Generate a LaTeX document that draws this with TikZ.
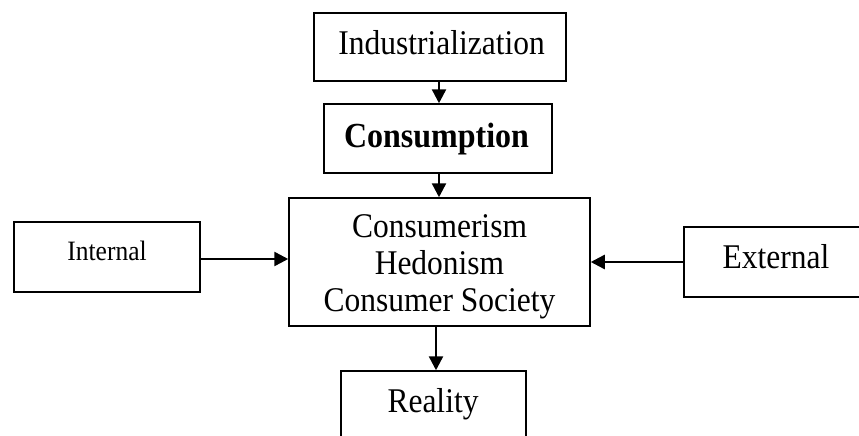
\documentclass[tikz,border=0pt]{standalone}
\usepackage{fontspec}
\setmainfont{Liberation Serif}
\usetikzlibrary{arrows.meta}
\newcommand{\tallt}[1]{\scalebox{1}[1.1]{#1}}
\begin{document}
\begin{tikzpicture}[x=1pt,y=-1pt,
  box/.style={draw,line width=1.5pt,inner sep=0pt},
  lbl/.style={inner sep=0pt,anchor=base,font=\fontsize{31.5}{37}\selectfont},
  conn/.style={line width=2.5pt,-{Triangle[length=14pt,width=14pt]}}]
\useasboundingbox (0,0) rectangle (859,436);
% boxes
\node[box,minimum width=252,minimum height=68] (ind) at (440,47) {};
\node[box,minimum width=228,minimum height=69] (con) at (438,138.5) {};
\node[box,minimum width=301,minimum height=128] (mid) at (439.5,262) {};
\node[box,minimum width=186,minimum height=70] (int) at (107,257) {};
\node[box,minimum width=200,minimum height=70] (ext) at (784,262) {};
\node[box,minimum width=185,minimum height=80] (rea) at (433.5,411) {};
% texts
\node[lbl] (indtext) at (441.5,55) {\tallt{Industrialization}};
\node[lbl,font=\fontsize{32}{37}\selectfont\bfseries] (context) at (436.5,147) {\tallt{Consumption}};
\node[lbl] (midtexta) at (439.5,237) {\tallt{Consumerism}};
\node[lbl] (midtextb) at (439.5,274) {\tallt{Hedonism}};
\node[lbl] (midtextc) at (439.5,311) {\tallt{Consumer Society}};
\node[lbl,font=\fontsize{25.5}{30}\selectfont] (inttext) at (107,260) {\tallt{Internal}};
\node[lbl] (exttext) at (776,268) {\tallt{External}};
\node[lbl] (reatext) at (433,412) {\tallt{Reality}};
% connectors
\draw[conn] (ind.south -| 439,0) -- (con.north -| 439,0);
\draw[conn] (con.south -| 439,0) -- (mid.north -| 439,0);
\draw[conn] (int.east |- 0,259) -- (mid.west |- 0,259);
\draw[conn] (ext.west |- 0,262) -- (mid.east |- 0,262);
\draw[conn] (mid.south -| 436,0) -- (rea.north -| 436,0);
\end{tikzpicture}
\end{document}
